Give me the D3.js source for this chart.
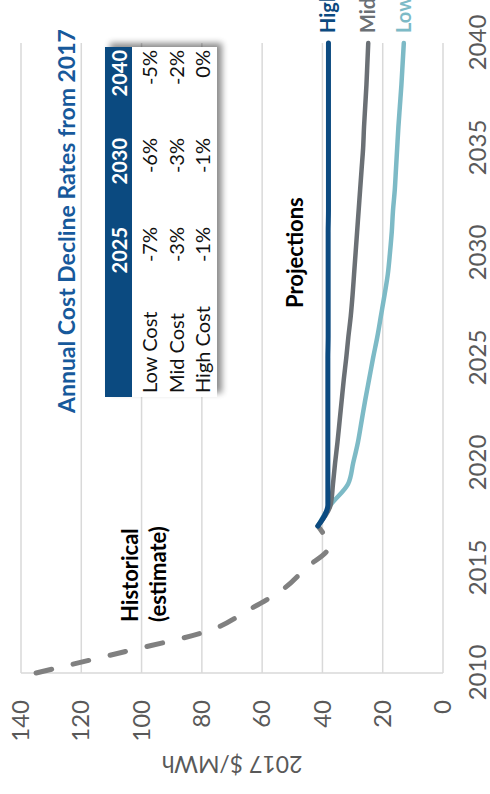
<!DOCTYPE html>
<html>
<head>
<meta charset="utf-8">
<script src="https://cdn.jsdelivr.net/npm/d3@7"></script>
<style>
  html, body { margin: 0; padding: 0; background: #fff; }
  svg { display: block; font-family: Lato, "Noto Sans", sans-serif; }
</style>
</head>
<body>
<svg id="chart" width="490" height="794"></svg>
<script>
// Historical cost estimate (2017 $/MWh)
const histYears = [2010, 2011, 2012, 2013, 2014, 2015, 2016, 2017];
const histCost  = [135, 106, 78, 64.5, 53, 45.5, 38, 41.5];

// Projection years and the three cost trajectories
const projYears = [2017, 2018, 2019, 2020, 2021, 2022, 2023, 2024, 2025, 2026, 2027, 2028,
                   2029, 2030, 2031, 2032, 2033, 2034, 2035, 2036, 2037, 2038, 2039, 2040];
const lowCost  = [41.5, 37.3, 31.5, 29.8, 28.2, 27.0, 25.8, 24.5, 23.2, 21.8, 20.6, 19.4,
                  18.3, 17.6, 17.0, 16.6, 16.0, 15.6, 15.2, 14.8, 14.3, 13.8, 13.4, 13.0];
const midCost  = [41.5, 37.3, 36.5, 35.8, 35.0, 34.3, 33.6, 32.9, 32.1, 31.4, 30.6, 30.0,
                  29.5, 29.0, 28.5, 28.0, 27.5, 27.0, 26.5, 26.2, 25.8, 25.4, 25.1, 24.8];
const highCost = [41.5, 38.2, 38.2, 38.2, 38.2, 38.2, 38.2, 38.2, 38.2, 38.1, 38.1, 38.1,
                  38.1, 38.1, 38.1, 38.0, 38.0, 38.0, 38.0, 38.0, 38.0, 38.0, 38.0, 38.0];
const seriesNames = ["Low", "Mid", "High"];

// Axis ticks
const yearTicks = [2010, 2015, 2020, 2025, 2030, 2035, 2040];
const costTicks = [0, 20, 40, 60, 80, 100, 120, 140];

// Inset table of annual decline rates
const tableYears = ["2025", "2030", "2040"];
const tableRows  = ["Low Cost", "Mid Cost", "High Cost"];
const lowRates   = ["-7%", "-6%", "-5%"];
const midRates   = ["-3%", "-3%", "-2%"];
const highRates  = ["-1%", "-1%", "0%"];

const colors = { Low: "#7dbac6", Mid: "#6b7075", High: "#0b4a80", hist: "#808080" };

const svg = d3.select("#chart");

// The chart is laid out in a 794 x 490 landscape frame and turned a quarter turn
const root = svg.append("g").attr("transform", "translate(0,794) rotate(-90)");

const defs = svg.append("defs");
const shadow = defs.append("filter").attr("id", "tblShadow")
  .attr("x", "-10%").attr("y", "-20%").attr("width", "130%").attr("height", "150%");
shadow.append("feGaussianBlur").attr("in", "SourceAlpha").attr("stdDeviation", 3).attr("result", "b");
shadow.append("feOffset").attr("in", "b").attr("dx", 4).attr("dy", 5).attr("result", "o");
shadow.append("feComponentTransfer").attr("in", "o").attr("result", "s")
  .append("feFuncA").attr("type", "linear").attr("slope", 0.45);
const merge = shadow.append("feMerge");
merge.append("feMergeNode").attr("in", "s");
merge.append("feMergeNode").attr("in", "SourceGraphic");

const x = d3.scaleLinear().domain([2010, 2040]).range([121, 751]);
const y = d3.scaleLinear().domain([0, 140]).range([443, 21]);

// Gridlines
root.append("g").selectAll("line").data(costTicks).join("line")
  .attr("x1", x(2010)).attr("x2", x(2040))
  .attr("y1", d => y(d)).attr("y2", d => y(d))
  .attr("stroke", "#d9d9d9").attr("stroke-width", 1.5);
root.append("line")
  .attr("x1", x(2010)).attr("x2", x(2010)).attr("y1", y(0)).attr("y2", y(140))
  .attr("stroke", "#d9d9d9").attr("stroke-width", 1.5);

// Axes
const xAxis = root.append("g").attr("transform", `translate(0,${y(0)})`)
  .call(d3.axisBottom(x).tickValues(yearTicks).tickFormat(d3.format("d")).tickSize(0).tickPadding(26));
xAxis.select(".domain").remove();
xAxis.selectAll("text").attr("font-size", 24).attr("fill", "#595959")
  .attr("font-family", "Lato, 'Noto Sans', sans-serif");

const yAxis = root.append("g").attr("transform", `translate(${x(2010)},0)`)
  .call(d3.axisLeft(y).tickValues(costTicks).tickSize(0).tickPadding(27));
yAxis.select(".domain").remove();
yAxis.selectAll("text").attr("font-size", 24).attr("fill", "#595959")
  .attr("font-family", "Lato, 'Noto Sans', sans-serif");

root.append("text")
  .attr("transform", `translate(30,${(y(0) + y(140)) / 2}) rotate(-90)`)
  .attr("text-anchor", "middle").attr("dy", "0.35em")
  .attr("font-size", 23).attr("fill", "#595959")
  .text("2017 $/MWh");

// Inset table
const tbl = root.append("g");
const tX = 397, tY = 105, tW = 350, tH = 112, hdrH = 27;
const colRight = [567, 656, 744];
const rowBase = [157, 184, 210];
tbl.append("rect").attr("x", tX).attr("y", tY).attr("width", tW).attr("height", tH)
  .attr("fill", "#fff").attr("filter", "url(#tblShadow)");
tbl.append("rect").attr("x", tX).attr("y", tY).attr("width", tW).attr("height", hdrH)
  .attr("fill", "#0b4a80");
tbl.selectAll("text.hdr").data(tableYears).join("text").attr("class", "hdr")
  .attr("x", (d, i) => colRight[i]).attr("y", tY + 22)
  .attr("text-anchor", "end").attr("font-size", 20).attr("font-weight", "bold")
  .attr("fill", "#fff").text(d => d);
tbl.selectAll("text.row").data(tableRows).join("text").attr("class", "row")
  .attr("x", tX + 4).attr("y", (d, i) => rowBase[i])
  .attr("font-size", 20).attr("fill", "#111").text(d => d);
[lowRates, midRates, highRates].forEach((rates, r) => {
  tbl.append("g").selectAll("text").data(rates).join("text")
    .attr("x", (d, i) => colRight[i]).attr("y", rowBase[r])
    .attr("text-anchor", "end").attr("font-size", 20).attr("fill", "#111").text(d => d);
});

// Title
root.append("text").attr("x", 381).attr("y", 75)
  .attr("font-size", 23).attr("font-weight", "bold").attr("fill", "#17599b")
  .text("Annual Cost Decline Rates from 2017");

// Lines
const line = d3.line().x(d => x(d[0])).y(d => y(d[1])).curve(d3.curveMonotoneX);

root.append("path")
  .datum(histYears.map((yr, i) => [yr, histCost[i]]))
  .attr("d", line).attr("fill", "none").attr("stroke", colors.hist)
  .attr("stroke-width", 5).attr("stroke-dasharray", "16,22").attr("stroke-linecap", "round");

const series = { Low: lowCost, Mid: midCost, High: highCost };
seriesNames.forEach(name => {
  root.append("path")
    .datum(projYears.map((yr, i) => [yr, series[name][i]]))
    .attr("d", line).attr("fill", "none").attr("stroke", colors[name])
    .attr("stroke-width", name === "High" ? 5 : 4.5).attr("stroke-linecap", "round");
});

// Series labels at the line ends
seriesNames.forEach(name => {
  const vals = series[name];
  root.append("text")
    .attr("x", x(2040) + 10).attr("y", y(vals[vals.length - 1]))
    .attr("dy", "0.35em").attr("font-size", 20).attr("font-weight", "bold")
    .attr("fill", colors[name]).text(name);
});

// Annotations
root.append("text").attr("x", 486).attr("y", 303)
  .attr("font-size", 22).attr("font-weight", "bold").attr("fill", "#000").text("Projections");
root.append("text").attr("x", 172).attr("y", 138)
  .attr("font-size", 22).attr("font-weight", "bold").attr("fill", "#000").text("Historical");
root.append("text").attr("x", 172).attr("y", 166)
  .attr("font-size", 22).attr("font-weight", "bold").attr("fill", "#000").text("(estimate)");
</script>
</body>
</html>
